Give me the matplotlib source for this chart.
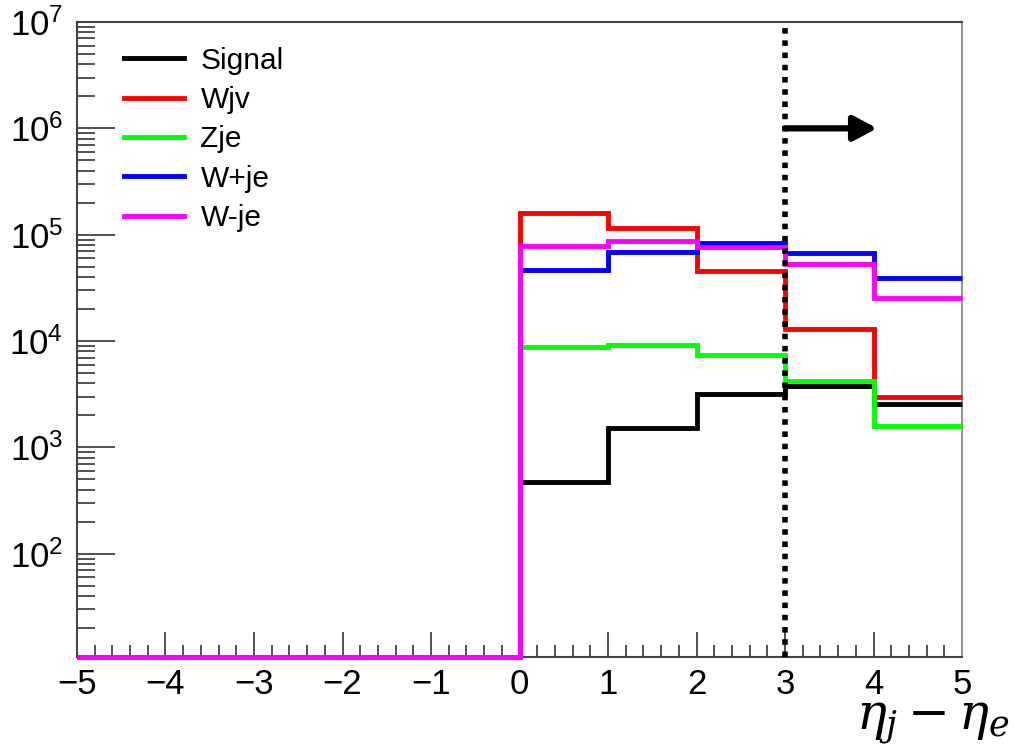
import numpy as np
import matplotlib
matplotlib.use("Agg")
import matplotlib.pyplot as plt
from matplotlib.ticker import LogLocator, MultipleLocator, NullFormatter, FuncFormatter, FixedLocator

plt.rcParams['font.family'] = ['Liberation Sans', 'DejaVu Sans']
plt.rcParams['mathtext.fontset'] = 'custom'
plt.rcParams['mathtext.rm'] = 'Liberation Sans'
plt.rcParams['mathtext.it'] = 'Liberation Sans:italic'

# Bin edges and contents
bin_edges = [-5, -4, -3, -2, -1, 0, 1, 2, 3, 4, 5]
signal = [0, 0, 0, 0, 0, 468, 1520, 3170, 3820, 2570]
wjv    = [0, 0, 0, 0, 0, 161000, 115000, 45700, 13000, 2970]
zje    = [0, 0, 0, 0, 0, 8700, 9200, 7400, 4170, 1600]
wpje   = [0, 0, 0, 0, 0, 46700, 69000, 83000, 67000, 39500]
wmje   = [0, 0, 0, 0, 0, 79000, 87000, 76000, 53000, 25600]

series_names = ["Signal", "Wjv", "Zje", "W+je", "W-je"]
series_values = [signal, wjv, zje, wpje, wmje]
series_colors = ["#000000", "#ff0000", "#00ff00", "#0000ff", "#ff00ff"]

y_major_ticks = [1e2, 1e3, 1e4, 1e5, 1e6, 1e7]

cut_value = 3
arrow_end = 4.04
arrow_y = 1e6

ymin, ymax = 10.7, 1e7

fig = plt.figure(figsize=(10.17, 7.5), dpi=100)
ax = fig.add_axes([0.0757, 0.124, 0.8703, 0.8467])

edges = np.array(bin_edges, dtype=float)
for name, vals, col in zip(series_names, series_values, series_colors):
    v = np.maximum(np.array(vals, dtype=float), ymin)
    ax.stairs(v, edges, baseline=None, color=col, lw=3.5, label=name,
              clip_on=False, zorder=3)

ax.axvline(cut_value, color='black', lw=4.0, dashes=(1.0, 1.2), zorder=5)
ax.annotate("", xy=(arrow_end, arrow_y), xytext=(cut_value, arrow_y),
            arrowprops=dict(arrowstyle="-|>,head_length=1.4,head_width=0.75",
                            color='black', lw=4.5, shrinkA=0, shrinkB=0),
            zorder=6)

ax.set_yscale('log')
ax.set_xlim(-5, 5)
ax.set_ylim(ymin, ymax)

ax.xaxis.set_major_locator(MultipleLocator(1))
ax.xaxis.set_minor_locator(MultipleLocator(0.2))
ax.yaxis.set_major_locator(FixedLocator(y_major_ticks))
ax.yaxis.set_minor_locator(LogLocator(base=10, subs=np.arange(2, 10), numticks=20))
ax.yaxis.set_minor_formatter(NullFormatter())
ax.yaxis.set_major_formatter(FuncFormatter(
    lambda y, p: r"$10^{%d}$" % round(np.log10(y))))
ax.xaxis.set_major_formatter(FuncFormatter(
    lambda x, p: ("\u2212%d" % abs(x)) if x < 0 else "%d" % x))

ax.tick_params(axis='both', which='both', direction='in', top=False, right=False,
               colors='#333333', labelcolor='black')
ax.tick_params(axis='x', which='major', length=18, width=1.2, labelsize=25, pad=8)
ax.tick_params(axis='x', which='minor', length=9, width=1.2)
ax.tick_params(axis='y', which='major', length=27, width=1.2, labelsize=25, pad=10)
ax.tick_params(axis='y', which='minor', length=13, width=1.2)

for s in ['left', 'bottom', 'top']:
    ax.spines[s].set_color('#444444')
    ax.spines[s].set_linewidth(1.5)
ax.spines['right'].set_color('#999999')
ax.spines['right'].set_linewidth(1.5)

leg = ax.legend(loc='upper left', bbox_to_anchor=(0.04, 0.98), frameon=False,
                fontsize=21.5, handlelength=2.0, handletextpad=0.55,
                labelspacing=0.38, borderaxespad=0)

fig.text(0.993, 0.005, r"$\eta_j - \eta_e$", ha='right', va='bottom', fontsize=36,
         math_fontfamily='dejavuserif')

fig.savefig("out.png", dpi=100)
